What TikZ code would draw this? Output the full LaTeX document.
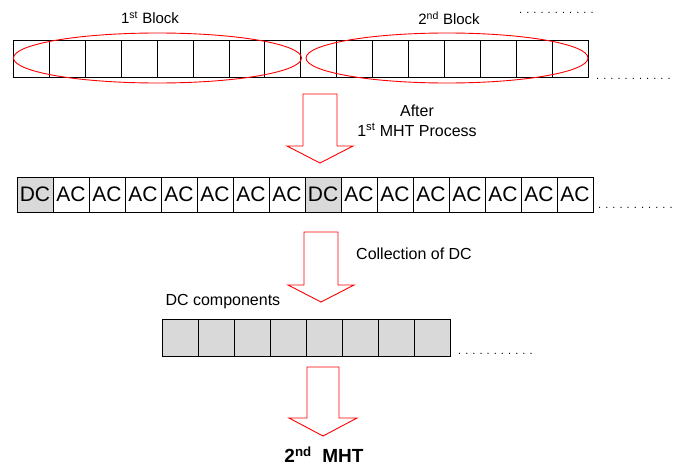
\documentclass[tikz,border=0pt]{standalone}
\usepackage{fontspec}
\setmainfont{Liberation Sans}
\usetikzlibrary{positioning, shapes.geometric}
\definecolor{dcgray}{RGB}{217,217,217}

\begin{document}
\begin{tikzpicture}[
    x=1pt,
    y=-1pt,
    cell/.style={
        rectangle,
        draw,
        inner sep=0pt,
        outer sep=0pt,
        minimum width=36pt,
        minimum height=37pt,
        line width=0.8pt
    },
    DC/.style={fill=dcgray},
    AC/.style={},
    blockellipse/.style={
        ellipse,
        draw=red,
        line width=0.9pt,
        inner sep=0pt,
        minimum height=50pt
    },
    blockarrow/.style={draw=red, line width=0.9pt, fill=white},
    lbl/.style={font=\fontsize{16}{20}\selectfont, align=center},
    dots/.style={font=\fontsize{11}{12}\selectfont, inner sep=0pt, anchor=base west}
]
\useasboundingbox (0,0) rectangle (676,466);

% Input blocks
\foreach \i in {1,...,16}
    \node[cell, minimum width=35.9pt] (a\i) at ({13.5+35.9*(\i-0.5)},58.5) {};

\node[blockellipse, minimum width=288pt] (blk1) at (157.5,58) {};
\node[blockellipse, minimum width=282pt] (blk2) at (447,58) {};

\node[lbl, font=\fontsize{15}{18}\selectfont] (blk1lbl) at (150,18) {1\textsuperscript{st} Block};
\node[lbl, font=\fontsize{15}{18}\selectfont] (blk2lbl) at (449,18) {2\textsuperscript{nd} Block};

\node[dots] (dotsa) at (519,13) {. . . . . . . . . . .};
\node[dots] (dotsb) at (596,79) {. . . . . . . . . . .};

% After 1st MHT
\draw[blockarrow, shift={(320,94)}] (-17,0) -- (17,0) -- (17,52) -- (33,52) -- (0,69) -- (-33,52) -- (-17,52) -- cycle;
\node[lbl] (after) at (417,121) {After\\1\textsuperscript{st} MHT Process};

\foreach \t [count=\i] in {DC,AC,AC,AC,AC,AC,AC,AC,DC,AC,AC,AC,AC,AC,AC,AC}
    \node[cell, \t, minimum height=35pt, font=\fontsize{21}{21}\selectfont] (b\i) at ({17+36*(\i-0.5)},194.5) {\t};

\node[dots] (dotsc) at (598,208) {. . . . . . . . . . .};

% Collection of DC
\draw[blockarrow, shift={(321,232)}] (-17,0) -- (17,0) -- (17,53) -- (33,53) -- (0,70) -- (-33,53) -- (-17,53) -- cycle;
\node[lbl] (collect) at (414,254) {Collection of DC};

\node[lbl, anchor=west] (dclbl) at (162,302) {DC components};
\foreach \i in {1,...,8}
    \node[cell, DC] (c\i) at ({162+36*(\i-0.5)},337.5) {};

\node[dots] (dotsd) at (458,354) {. . . . . . . . . . .};

% 2nd MHT
\draw[blockarrow, shift={(323,367)}] (-16,0) -- (16,0) -- (16,51) -- (34,51) -- (0,69) -- (-34,51) -- (-16,51) -- cycle;
\node[lbl, font=\bfseries\fontsize{19}{20}\selectfont] (mht) at (324,455) {2\textsuperscript{nd}\ \ MHT};

\end{tikzpicture}
\end{document}
